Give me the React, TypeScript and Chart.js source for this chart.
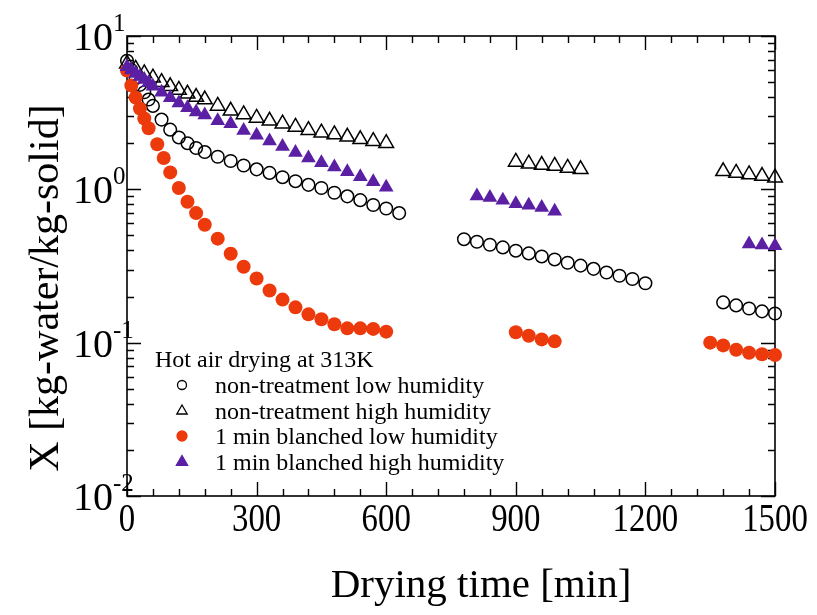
import React, { useEffect, useRef } from 'react';
import { Chart, registerables } from 'chart.js';

Chart.register(...registerables);

const SERIF = '"Liberation Serif", "Times New Roman", Times, serif';

// Drying time [min] and moisture content X [kg-water/kg-solid], hot air drying at 313 K

// non-treatment, low humidity
const ntLowTime = [0, 10, 20, 30, 40, 50, 60, 80, 100, 120, 140, 160, 180, 210, 240, 270, 300, 330, 360, 390, 420, 450, 480, 510, 540, 570, 600, 630,
  780, 810, 840, 870, 900, 930, 960, 990, 1020, 1050, 1080, 1110, 1140, 1170, 1200,
  1380, 1410, 1440, 1470, 1500];
const ntLowX = [6.9, 6.0, 5.3, 4.8, 4.3, 3.85, 3.5, 2.85, 2.45, 2.18, 2.0, 1.86, 1.75, 1.63, 1.53, 1.43, 1.35, 1.28, 1.2, 1.13, 1.07, 1.02, 0.95, 0.9, 0.85, 0.79, 0.75, 0.7,
  0.473, 0.455, 0.435, 0.418, 0.398, 0.382, 0.365, 0.349, 0.332, 0.318, 0.303, 0.287, 0.273, 0.26, 0.244,
  0.183, 0.175, 0.167, 0.16, 0.155];

// non-treatment, high humidity
const ntHighTime = [0, 20, 40, 60, 80, 100, 120, 140, 160, 180, 210, 240, 270, 300, 330, 360, 390, 420, 450, 480, 510, 540, 570, 600,
  900, 930, 960, 990, 1020, 1050,
  1380, 1410, 1440, 1470, 1500];
const ntHighX = [6.6, 6.1, 5.7, 5.35, 5.0, 4.7, 4.45, 4.2, 4.0, 3.85, 3.5, 3.25, 3.08, 2.92, 2.8, 2.68, 2.55, 2.43, 2.34, 2.28, 2.2, 2.12, 2.06, 2.0,
  1.51, 1.47, 1.44, 1.42, 1.38, 1.35,
  1.31, 1.28, 1.25, 1.22, 1.19];

// 1 min blanched, low humidity
const blLowTime = [0, 10, 20, 30, 40, 50, 70, 85, 100, 120, 140, 160, 180, 210, 240, 270, 300, 330, 360, 390, 420, 450, 480, 510, 540, 570, 600,
  900, 930, 960, 990,
  1350, 1380, 1410, 1440, 1470, 1500];
const blLowX = [5.95, 4.75, 3.97, 3.37, 2.9, 2.5, 1.97, 1.6, 1.29, 1.02, 0.83, 0.7, 0.587, 0.477, 0.38, 0.313, 0.262, 0.219, 0.191, 0.17, 0.153, 0.142, 0.132, 0.124, 0.124, 0.123, 0.118,
  0.117, 0.111, 0.105, 0.102,
  0.1, 0.096, 0.09, 0.086, 0.084, 0.083];

// 1 min blanched, high humidity
const blHighTime = [0, 10, 20, 30, 40, 50, 60, 80, 100, 120, 140, 160, 180, 210, 240, 270, 300, 330, 360, 390, 420, 450, 480, 510, 540, 570, 600,
  810, 840, 870, 900, 930, 960, 990,
  1440, 1470, 1500];
const blHighX = [6.3, 6.0, 5.7, 5.45, 5.2, 4.95, 4.7, 4.3, 3.95, 3.65, 3.4, 3.2, 3.05, 2.8, 2.68, 2.42, 2.25, 2.07, 1.9, 1.74, 1.6, 1.49, 1.4, 1.3, 1.21, 1.12, 1.03,
  0.905, 0.883, 0.849, 0.806, 0.787, 0.76, 0.72,
  0.44, 0.433, 0.428];

const seriesNames = [
  'non-treatment low humidity',
  'non-treatment high humidity',
  '1 min blanched low humidity',
  '1 min blanched high humidity',
];
const legendTitle = 'Hot air drying at 313K';
const xAxisTitle = 'Drying time [min]';
const yAxisTitle = 'X [kg-water/kg-solid]';

const xTickValues = [0, 300, 600, 900, 1200, 1500];
const xMinorStep = 60;
const yDecadeValues = [0.01, 0.1, 1, 10];
const yDecadeExponents = ['-2', '-1', '0', '1'];

const RED = '#EC3A0C';
const PURPLE = '#5A1FA3';

const toPoints = (t: number[], v: number[]) => t.map((x, i) => ({ x, y: v[i] }));

type Marker = { style: 'circle' | 'triangle'; fill: string; stroke: string; r: number };
const legendMarkers: Marker[] = [
  { style: 'circle', fill: 'rgba(0,0,0,0)', stroke: '#000', r: 4.5 },
  { style: 'triangle', fill: 'rgba(0,0,0,0)', stroke: '#000', r: 6 },
  { style: 'circle', fill: RED, stroke: RED, r: 5 },
  { style: 'triangle', fill: PURPLE, stroke: PURPLE, r: 6.5 },
];

function drawMarker(ctx: CanvasRenderingContext2D, m: Marker, x: number, y: number) {
  ctx.beginPath();
  if (m.style === 'circle') {
    ctx.arc(x, y, m.r, 0, Math.PI * 2);
  } else {
    for (let k = 0; k < 3; k++) {
      const a = (k * 2 * Math.PI) / 3;
      const px = x + Math.sin(a) * m.r;
      const py = y - Math.cos(a) * m.r;
      if (k === 0) ctx.moveTo(px, py);
      else ctx.lineTo(px, py);
    }
    ctx.closePath();
  }
  ctx.fillStyle = m.fill;
  ctx.fill();
  ctx.lineWidth = 1.3;
  ctx.strokeStyle = m.stroke;
  ctx.stroke();
}

// Frame with inward ticks on all four sides
const framePlugin = {
  id: 'frameTicks',
  beforeDatasetsDraw(chart: any) {
    const { ctx, chartArea: a, scales } = chart;
    const xs = scales.x;
    const ys = scales.y;
    ctx.save();
    ctx.strokeStyle = '#000';
    ctx.lineWidth = 1.6;
    ctx.strokeRect(a.left, a.top, a.right - a.left, a.bottom - a.top);
    ctx.lineWidth = 1.4;
    ctx.beginPath();
    for (let v = 0; v <= 1500; v += xMinorStep) {
      const px = Math.round(xs.getPixelForValue(v)) + 0.5;
      const len = xTickValues.includes(v) ? 14 : 7;
      ctx.moveTo(px, a.bottom);
      ctx.lineTo(px, a.bottom - len);
      ctx.moveTo(px, a.top);
      ctx.lineTo(px, a.top + len);
    }
    for (let d = 0; d < yDecadeValues.length; d++) {
      const base = yDecadeValues[d];
      const mults = d === yDecadeValues.length - 1 ? [1] : [1, 2, 3, 4, 5, 6, 7, 8, 9];
      for (const m of mults) {
        const py = Math.round(ys.getPixelForValue(base * m)) + 0.5;
        const len = m === 1 ? 14 : 7;
        ctx.moveTo(a.left, py);
        ctx.lineTo(a.left + len, py);
        ctx.moveTo(a.right, py);
        ctx.lineTo(a.right - len, py);
      }
    }
    ctx.stroke();
    ctx.restore();
  },
  afterDraw(chart: any) {
    const { ctx, chartArea: a, scales } = chart;
    const xs = scales.x;
    const ys = scales.y;
    ctx.save();
    ctx.fillStyle = '#000';

    // x tick labels (narrow set)
    ctx.font = `40px ${SERIF}`;
    ctx.textAlign = 'center';
    ctx.textBaseline = 'alphabetic';
    for (const v of xTickValues) {
      ctx.save();
      ctx.translate(xs.getPixelForValue(v), a.bottom + 35);
      ctx.scale(0.82, 1);
      ctx.fillText(String(v), 0, 0);
      ctx.restore();
    }

    // y tick labels as powers of ten
    ctx.textAlign = 'left';
    for (let i = 0; i < yDecadeValues.length; i++) {
      const py = ys.getPixelForValue(yDecadeValues[i]);
      ctx.font = `40px ${SERIF}`;
      ctx.textBaseline = 'alphabetic';
      const x0 = 73;
      ctx.fillText('10', x0, py + 14);
      const w = ctx.measureText('10').width;
      ctx.font = `25px ${SERIF}`;
      ctx.fillText(yDecadeExponents[i], x0 + w, py - 5);
    }

    // axis titles
    ctx.font = `41px ${SERIF}`;
    ctx.textAlign = 'center';
    ctx.fillText(xAxisTitle, 481, 597);
    ctx.save();
    ctx.font = `42px ${SERIF}`;
    ctx.translate(58, 288);
    ctx.rotate(-Math.PI / 2);
    ctx.fillText(yAxisTitle, 0, 0);
    ctx.restore();

    // legend
    ctx.textAlign = 'left';
    ctx.font = `24px ${SERIF}`;
    ctx.fillText(legendTitle, 155, 367);
    const rowBase = [393, 419, 444, 470];
    for (let i = 0; i < seriesNames.length; i++) {
      drawMarker(ctx, legendMarkers[i], 182, rowBase[i] - 8);
      ctx.fillStyle = '#000';
      ctx.fillText(seriesNames[i], 215, rowBase[i]);
    }
    ctx.restore();
  },
};

export default function App() {
  const canvasRef = useRef<HTMLCanvasElement | null>(null);

  useEffect(() => {
    const canvas = canvasRef.current;
    if (!canvas) return;
    const chart = new Chart(canvas, {
      type: 'scatter',
      data: {
        datasets: [
          {
            label: seriesNames[0],
            data: toPoints(ntLowTime, ntLowX),
            pointStyle: 'circle',
            pointRadius: 6.3,
            pointBackgroundColor: 'rgba(0,0,0,0)',
            pointBorderColor: '#000',
            pointBorderWidth: 1.5,
            order: 3,
            clip: false,
          },
          {
            label: seriesNames[1],
            data: toPoints(ntHighTime, ntHighX),
            pointStyle: 'triangle',
            pointRadius: 8.5,
            pointBackgroundColor: 'rgba(0,0,0,0)',
            pointBorderColor: '#000',
            pointBorderWidth: 1.5,
            order: 2,
            clip: false,
          },
          {
            label: seriesNames[2],
            data: toPoints(blLowTime, blLowX),
            pointStyle: 'circle',
            pointRadius: 7,
            pointBackgroundColor: RED,
            pointBorderColor: RED,
            pointBorderWidth: 0,
            order: 1,
            clip: false,
          },
          {
            label: seriesNames[3],
            data: toPoints(blHighTime, blHighX),
            pointStyle: 'triangle',
            pointRadius: 8.5,
            pointBackgroundColor: PURPLE,
            pointBorderColor: PURPLE,
            pointBorderWidth: 0,
            order: 0,
            clip: false,
          },
        ],
      },
      options: {
        responsive: false,
        animation: false,
        events: [],
        layout: { padding: { left: 127, right: 42, top: 36, bottom: 119 } },
        plugins: { legend: { display: false }, tooltip: { enabled: false } },
        scales: {
          x: { type: 'linear', min: 0, max: 1500, display: false },
          y: { type: 'logarithmic', min: 0.01, max: 10, display: false },
        },
      },
      plugins: [framePlugin],
    });
    return () => chart.destroy();
  }, []);

  return (
    <div style={{ position: 'fixed', left: 0, top: 0, width: 817, height: 615, background: '#fff' }}>
      <canvas ref={canvasRef} width={817} height={615} />
    </div>
  );
}
